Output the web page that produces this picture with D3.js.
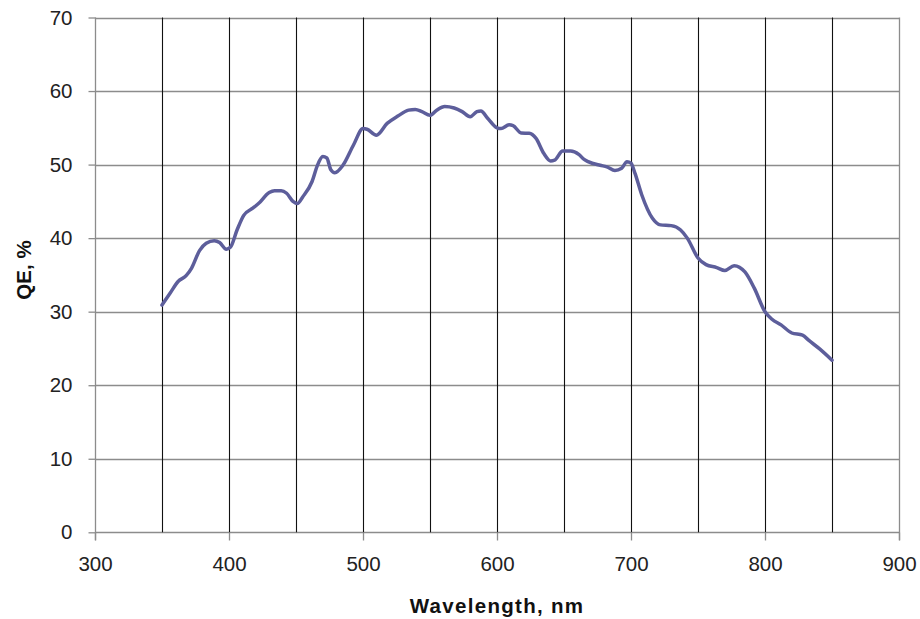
<!DOCTYPE html>
<html>
<head>
<meta charset="utf-8">
<script src="https://cdn.jsdelivr.net/npm/d3@7/dist/d3.min.js"></script>
<style>
  html, body { margin: 0; padding: 0; background: #fff; }
  svg { display: block; }
</style>
</head>
<body>
<svg id="chart" width="920" height="619"></svg>
<script>
// ---- data ----
const wavelength = [350,356,362,368,372,378,383,389,393,398,401,406,411,418,422,430,434,439,443,448,451,455,462,466,470,473,476,479,485,493,500,503,510,518,526,534,539,544,550,555,561,568,574,580,585,588,593,600,603,609,612,618,624,629,635,640,643,649,655,661,665,668,677,682,688,693,697,700,703,708,716,722,730,737,742,750,756,764,770,777,785,792,800,805,812,820,828,833,841,850];
const qe = [30.9,32.5,34.1,34.9,35.9,38.3,39.3,39.65,39.4,38.5,38.75,41.1,43.1,44.1,44.7,46.2,46.45,46.45,46.1,44.95,44.7,45.6,47.7,49.9,51.1,50.9,49.3,48.9,49.9,52.7,54.9,54.8,54.0,55.6,56.6,57.4,57.5,57.2,56.7,57.4,57.9,57.7,57.2,56.5,57.2,57.3,56.3,55.0,54.9,55.4,55.3,54.3,54.25,53.6,51.5,50.5,50.6,51.85,51.85,51.4,50.7,50.4,49.9,49.7,49.2,49.5,50.4,50.2,48.8,45.9,42.7,41.8,41.7,41.1,40.0,37.3,36.4,36.0,35.6,36.25,35.4,33.2,30.0,29.0,28.2,27.1,26.8,26.05,24.9,23.4];
const xTicks = [300,400,500,600,700,800,900];
const xMinorGrid = [350,400,450,500,550,600,650,700,750,800,850];
const yTicks = [0,10,20,30,40,50,60,70];
const xTitle = "Wavelength, nm";
const yTitle = "QE, %";

// ---- layout ----
const svg = d3.select("#chart");
const pLeft = 95, pRight = 899, pTop = 17.5, pBottom = 532.3;
const x = d3.scaleLinear().domain([300, 900]).range([pLeft, pRight]);
const y = d3.scaleLinear().domain([0, 70]).range([pBottom, pTop]);
const font = "'Liberation Sans', Arial, sans-serif";

// horizontal grid
svg.append("g").selectAll("line").data(yTicks).join("line")
  .attr("x1", pLeft).attr("x2", pRight)
  .attr("y1", d => Math.round(y(d)) + 0.5).attr("y2", d => Math.round(y(d)) + 0.5)
  .attr("stroke", "#8c8c8c").attr("stroke-width", 1.3);

// vertical grid (every 50 nm, dark)
svg.append("g").selectAll("line").data(xMinorGrid).join("line")
  .attr("x1", d => Math.round(x(d)) + 0.5).attr("x2", d => Math.round(x(d)) + 0.5)
  .attr("y1", pTop).attr("y2", pBottom)
  .attr("stroke", "#111").attr("stroke-width", 1.1);

// right border & left axis
svg.append("line").attr("x1", Math.round(x(900)) + 0.5).attr("x2", Math.round(x(900)) + 0.5)
  .attr("y1", pTop).attr("y2", pBottom + 8).attr("stroke", "#8c8c8c").attr("stroke-width", 1.3);
svg.append("line").attr("x1", pLeft + 0.5).attr("x2", pLeft + 0.5)
  .attr("y1", pTop).attr("y2", pBottom + 8).attr("stroke", "#8c8c8c").attr("stroke-width", 1.3);

// axes via d3
const yAxis = svg.append("g").attr("transform", `translate(${pLeft + 0.5},0)`)
  .call(d3.axisLeft(y).tickValues(yTicks).tickSize(7).tickPadding(16).tickFormat(d3.format("d")));
const xAxis = svg.append("g").attr("transform", `translate(0,${Math.round(pBottom) + 0.5})`)
  .call(d3.axisBottom(x).tickValues(xTicks).tickSize(8).tickPadding(16).tickFormat(d3.format("d")));
[yAxis, xAxis].forEach(g => {
  g.select(".domain").remove();
  g.selectAll(".tick line").attr("stroke", "#8c8c8c").attr("stroke-width", 1.3);
  g.selectAll(".tick text").attr("font-family", font).attr("font-size", 20.5).attr("fill", "#222");
});

// curve
const pts = wavelength.map((w, i) => [w, qe[i]]);
svg.append("path").datum(pts)
  .attr("fill", "none").attr("stroke", "#5d5e9b").attr("stroke-width", 3.5)
  .attr("stroke-linejoin", "round").attr("stroke-linecap", "round")
  .attr("d", d3.line().x(d => x(d[0])).y(d => y(d[1])).curve(d3.curveMonotoneX));

// titles
svg.append("text").text(xTitle)
  .attr("x", (pLeft + pRight) / 2).attr("y", 613)
  .attr("text-anchor", "middle").attr("font-family", font).attr("font-weight", "bold")
  .attr("font-size", 20.5).attr("letter-spacing", "1.3px").attr("fill", "#111");
svg.append("text").text(yTitle)
  .attr("transform", `translate(31,270) rotate(-90)`)
  .attr("text-anchor", "middle").attr("font-family", font).attr("font-weight", "bold")
  .attr("font-size", 20.5).attr("fill", "#111");
</script>
</body>
</html>
